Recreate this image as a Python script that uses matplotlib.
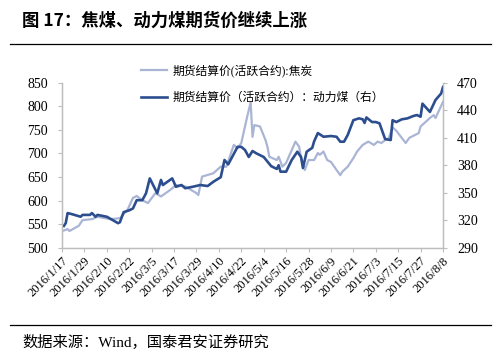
import pandas as pd
import matplotlib
matplotlib.use("Agg")
import matplotlib.pyplot as plt
from matplotlib.lines import Line2D

# 期货结算价(活跃合约):焦炭  (left axis)
coke_dates = ["2016-01-18", "2016-01-20", "2016-01-21", "2016-01-26", "2016-01-28",
              "2016-02-02", "2016-02-05", "2016-02-12", "2016-02-17", "2016-02-21",
              "2016-02-24", "2016-02-26", "2016-02-29", "2016-03-03", "2016-03-07",
              "2016-03-10", "2016-03-15", "2016-03-18", "2016-03-23", "2016-03-29",
              "2016-03-30", "2016-04-01", "2016-04-07", "2016-04-11", "2016-04-14",
              "2016-04-18", "2016-04-20", "2016-04-22", "2016-04-25", "2016-04-27",
              "2016-04-28", "2016-04-29", "2016-05-02", "2016-05-05", "2016-05-06",
              "2016-05-07", "2016-05-11", "2016-05-12", "2016-05-14", "2016-05-16",
              "2016-05-19", "2016-05-21", "2016-05-23", "2016-05-24", "2016-05-26",
              "2016-05-28", "2016-05-31", "2016-06-02", "2016-06-03", "2016-06-05",
              "2016-06-07", "2016-06-09", "2016-06-12", "2016-06-14", "2016-06-15",
              "2016-06-18", "2016-06-21", "2016-06-23", "2016-06-26", "2016-06-29",
              "2016-07-02", "2016-07-04", "2016-07-06", "2016-07-08", "2016-07-10",
              "2016-07-12", "2016-07-14", "2016-07-19", "2016-07-21", "2016-07-24",
              "2016-07-26", "2016-07-27", "2016-08-01", "2016-08-03", "2016-08-04",
              "2016-08-06", "2016-08-08"]
coke_price = [537, 540, 536, 547, 559,
              561, 566, 561, 563, 580,
              606, 610, 601, 595, 616,
              609, 623, 633, 630, 616,
              612, 651, 658, 672, 672,
              718, 711, 722, 775, 808,
              735, 760, 757, 728, 714,
              693, 686, 693, 672, 680,
              707, 725, 714, 690, 665,
              686, 686, 701, 697, 704,
              686, 682, 665, 654, 661,
              672, 690, 704, 718, 725,
              718, 725, 722, 728, 733,
              755, 748, 722, 733, 739,
              743, 757, 775, 781, 775,
              792, 809]

# 期货结算价（活跃合约）：动力煤（右）  (right axis)
coal_dates = ["2016-01-18", "2016-01-19", "2016-01-20", "2016-01-22", "2016-01-27",
              "2016-01-28", "2016-02-01", "2016-02-02", "2016-02-04", "2016-02-05",
              "2016-02-10", "2016-02-16", "2016-02-17", "2016-02-19", "2016-02-22",
              "2016-02-24", "2016-02-26", "2016-02-29", "2016-03-02", "2016-03-04",
              "2016-03-08", "2016-03-10", "2016-03-11", "2016-03-16", "2016-03-18",
              "2016-03-21", "2016-03-23", "2016-03-27", "2016-03-31", "2016-04-04",
              "2016-04-07", "2016-04-11", "2016-04-13", "2016-04-15", "2016-04-20",
              "2016-04-22", "2016-04-24", "2016-04-26", "2016-04-28", "2016-04-30",
              "2016-05-04", "2016-05-08", "2016-05-11", "2016-05-12", "2016-05-13",
              "2016-05-16", "2016-05-19", "2016-05-22", "2016-05-24", "2016-05-25",
              "2016-05-27", "2016-05-30", "2016-05-31", "2016-06-02", "2016-06-05",
              "2016-06-09", "2016-06-12", "2016-06-14", "2016-06-16", "2016-06-18",
              "2016-06-21", "2016-06-24", "2016-06-26", "2016-06-27", "2016-06-28",
              "2016-07-01", "2016-07-03", "2016-07-05", "2016-07-08", "2016-07-11",
              "2016-07-12", "2016-07-14", "2016-07-17", "2016-07-20", "2016-07-23",
              "2016-07-25", "2016-07-27", "2016-07-28", "2016-08-01", "2016-08-04",
              "2016-08-07", "2016-08-08"]
coal_price = [314, 317, 328, 327, 324,
              326, 326, 328, 324, 326,
              324, 317, 318, 329, 331,
              333, 342, 342, 349.5, 365.7,
              349.5, 364, 358.5, 365.7, 356.6,
              358.5, 355, 356.6, 358.5, 357.4,
              362, 367, 385.7, 381, 400,
              400, 396.5, 389, 395.5, 393,
              389, 379, 376, 380, 373,
              373, 385.7, 394.7, 389, 377,
              394.7, 399, 406, 415, 411,
              411.8, 411, 405.6, 405.6, 413,
              429, 431, 430, 426, 432,
              427, 427, 425.6, 408.5, 407.4,
              429, 427, 430, 431, 433.5,
              434.6, 432.8, 447, 438, 451,
              458, 465]

tick_dates = pd.date_range("2016-01-17", "2016-08-08", freq="12D")
tick_labels = ["2016/1/17", "2016/1/29", "2016/2/10", "2016/2/22", "2016/3/5",
               "2016/3/17", "2016/3/29", "2016/4/10", "2016/4/22", "2016/5/4",
               "2016/5/16", "2016/5/28", "2016/6/9", "2016/6/21", "2016/7/3",
               "2016/7/15", "2016/7/27", "2016/8/8"]

light = "#AAB5D5"
dark = "#2D4E8E"
grey = "#BDBDBD"
serif_cjk = ["Liberation Serif", "Noto Sans CJK SC"]

fig = plt.figure(figsize=(5.01, 3.64), dpi=100)
ax = fig.add_axes([62 / 501, 1 - 248 / 364, 381 / 501, 165.5 / 364])
ax2 = ax.twinx()

ax.plot(pd.to_datetime(coke_dates), coke_price, color=light, lw=1.6)
ax2.plot(pd.to_datetime(coal_dates), coal_price, color=dark, lw=1.9)

ax.set_xlim(tick_dates[0], tick_dates[-1])
ax.set_ylim(500, 850)
ax.set_yticks(range(500, 851, 50))
ax2.set_ylim(290, 470)
ax2.set_yticks(range(290, 471, 30))
ax.set_xticks(tick_dates)
ax.set_xticklabels(tick_labels, rotation=45, ha="right", rotation_mode="anchor")

for a in (ax, ax2):
    a.spines["top"].set_visible(False)
    for s in ("left", "right", "bottom"):
        a.spines[s].set_color(grey)
        a.spines[s].set_linewidth(0.9)
    a.tick_params(length=3, width=0.8, color=grey, labelsize=10, pad=2)
    a.tick_params(axis="y", pad=7)
    for lab in a.get_xticklabels() + a.get_yticklabels():
        lab.set_family("Liberation Serif")
ax.tick_params(axis="x", labelsize=9)

handles = [Line2D([], [], color=light, lw=1.6), Line2D([], [], color=dark, lw=1.9)]
labels = ["期货结算价(活跃合约):焦炭", "期货结算价（活跃合约）：动力煤（右）"]
ax.legend(handles, labels, loc="upper left", bbox_to_anchor=(130 / 501, 1 - 54 / 364),
          bbox_transform=fig.transFigure, frameon=False, prop={"family": serif_cjk, "size": 8.5},
          handlelength=2.2, handletextpad=0.5, labelspacing=1.2)

fig.text(22 / 501, 1 - 21 / 364, "图 17：焦煤、动力煤期货价继续上涨", fontsize=12.5,
         fontweight="bold", family=["Noto Sans CJK SC"], va="center", ha="left")
fig.add_artist(Line2D([10 / 501, 491 / 501], [1 - 43.5 / 364] * 2, color="black", lw=0.9))
fig.add_artist(Line2D([10 / 501, 491 / 501], [1 - 325 / 364] * 2, color="black", lw=0.9))
fig.text(22 / 501, 1 - 342 / 364, "数据来源：Wind，国泰君安证券研究", fontsize=11,
         family=serif_cjk, va="center", ha="left")

fig.savefig("out.png", dpi=100)
